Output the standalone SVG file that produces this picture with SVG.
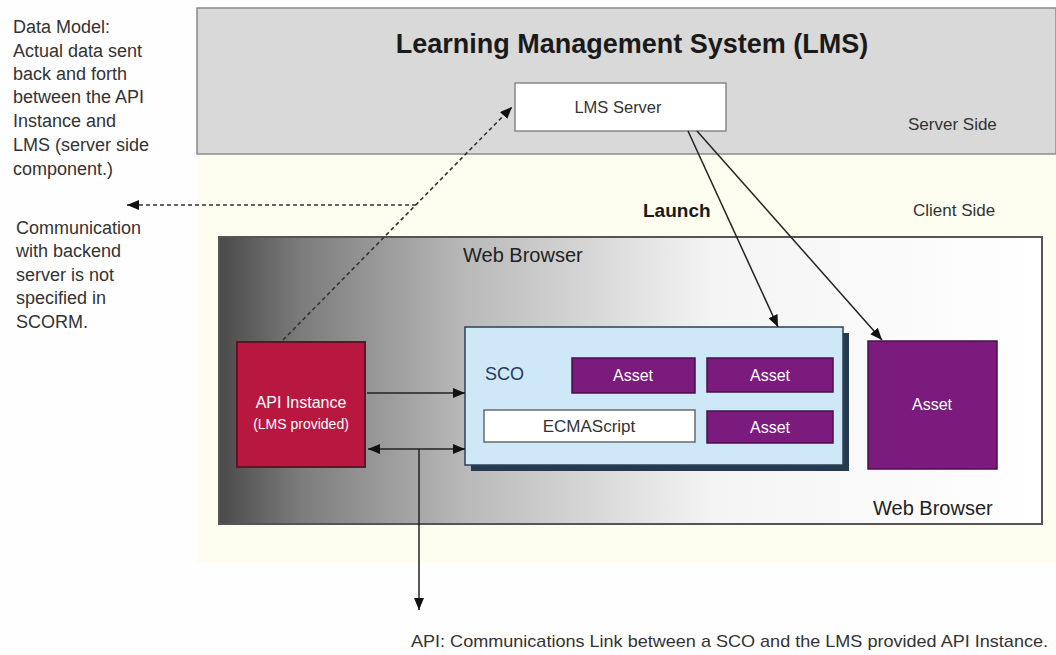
<svg xmlns="http://www.w3.org/2000/svg" width="1056" height="655" viewBox="0 0 1056 655">
  <defs>
    <linearGradient id="browserFill" x1="219" y1="0" x2="1042" y2="0" gradientUnits="userSpaceOnUse">
      <stop offset="0" stop-color="#4a4a4a"/>
      <stop offset="0.1" stop-color="#7c7c7c"/>
      <stop offset="0.3" stop-color="#b9b9b9"/>
      <stop offset="0.6" stop-color="#f4f4f4"/>
      <stop offset="1" stop-color="#ffffff"/>
    </linearGradient>
    <marker id="head" markerUnits="userSpaceOnUse" markerWidth="12" markerHeight="10" refX="12" refY="5" orient="auto-start-reverse">
      <path d="M0,0 L12,5 L0,10 z" fill="#111"/>
    </marker>
    <style>
      text { font-family: "Liberation Sans", Arial, sans-serif; }
      .note { font-size: 18px; fill: #333; }
      .side { font-size: 17px; fill: #333; }
      .label { font-size: 20px; fill: #222; }
      .white { fill: #fff; text-anchor: middle; }
      .asset { fill: #7a1b7d; stroke: #4a0f4e; stroke-width: 1.5; }
      .link { fill: none; stroke: #222; stroke-width: 1.5; }
      .dash { fill: none; stroke: #333; stroke-width: 1.6; stroke-dasharray: 4 3; }
    </style>
  </defs>

  <rect width="1056" height="655" fill="#fefefe"/>

  <!-- server and client side bands -->
  <g id="server-side">
    <rect x="197" y="8" width="859" height="146" fill="#d9d9d9" stroke="#8a8a8a" stroke-width="1.5"/>
    <text x="632" y="53" text-anchor="middle" font-size="27" font-weight="bold" fill="#1a1a1a">Learning Management System (LMS)</text>
    <text class="side" x="908" y="130">Server Side</text>
  </g>
  <g id="client-side">
    <rect x="197" y="155" width="859" height="408" fill="#fdfdf0"/>
    <text x="643" y="217" font-size="19" font-weight="bold" fill="#1a1a1a">Launch</text>
    <text class="side" x="913" y="216">Client Side</text>
  </g>

  <!-- browser window -->
  <g id="web-browser">
    <rect x="219" y="237" width="823" height="287" fill="url(#browserFill)" stroke="#555" stroke-width="2"/>
    <text class="label" x="463" y="262">Web Browser</text>
    <text class="label" x="873" y="515">Web Browser</text>
  </g>

  <g id="lms-server">
    <rect x="515" y="83" width="211" height="48" fill="#fff" stroke="#888" stroke-width="1.5"/>
    <text x="618" y="113" text-anchor="middle" font-size="16.5" fill="#333">LMS Server</text>
  </g>

  <g id="api-instance">
    <rect x="237" y="342" width="128" height="125" fill="#b8183f" stroke="#5e1626" stroke-width="2"/>
    <text class="white" x="301" y="408" font-size="16">API Instance</text>
    <text class="white" x="301" y="429" font-size="14">(LMS provided)</text>
  </g>

  <g id="sco">
    <rect x="471" y="333" width="378" height="138" fill="#263a4e"/>
    <rect x="465" y="327" width="378" height="138" fill="#cfe8f8" stroke="#2b4257" stroke-width="1.5"/>
    <text x="485" y="380" font-size="18" fill="#243a5a">SCO</text>
  </g>

  <g id="asset-1">
    <rect class="asset" x="572" y="358" width="123" height="35"/>
    <text class="white" x="633" y="381" font-size="16">Asset</text>
  </g>
  <g id="asset-2">
    <rect class="asset" x="707" y="358" width="126" height="34"/>
    <text class="white" x="770" y="381" font-size="16">Asset</text>
  </g>
  <g id="ecmascript">
    <rect x="484" y="410" width="211" height="32" fill="#fff" stroke="#6a6a6a" stroke-width="1.5"/>
    <text x="589" y="432" text-anchor="middle" font-size="17" fill="#333">ECMAScript</text>
  </g>
  <g id="asset-3">
    <rect class="asset" x="707" y="411" width="126" height="32"/>
    <text class="white" x="770" y="433" font-size="16">Asset</text>
  </g>
  <g id="asset-4">
    <rect class="asset" x="868" y="341" width="129" height="128"/>
    <text class="white" x="932" y="410" font-size="16">Asset</text>
  </g>

  <!-- side notes -->
  <g id="note-data-model">
    <text class="note" x="13" y="33">Data Model:</text>
    <text class="note" x="13" y="56.5">Actual data sent</text>
    <text class="note" x="13" y="80">back and forth</text>
    <text class="note" x="13" y="103">between the API</text>
    <text class="note" x="13" y="126.5">Instance and</text>
    <text class="note" x="13" y="151">LMS (server side</text>
    <text class="note" x="13" y="175">component.)</text>
  </g>
  <g id="note-backend">
    <text class="note" x="16" y="234">Communication</text>
    <text class="note" x="16" y="257">with backend</text>
    <text class="note" x="16" y="281">server is not</text>
    <text class="note" x="16" y="304">specified in</text>
    <text class="note" x="16" y="328">SCORM.</text>
  </g>
  <g id="note-api">
    <text x="411" y="647" font-size="17" fill="#333" textLength="637" lengthAdjust="spacingAndGlyphs">API: Communications Link between a SCO and the LMS provided API Instance.</text>
  </g>

  <!-- connectors -->
  <g id="connectors">
    <line class="dash" x1="283" y1="340" x2="512" y2="107" marker-end="url(#head)"/>
    <line class="dash" x1="416" y1="205" x2="127" y2="205" marker-end="url(#head)"/>
    <line class="link" x1="688" y1="131" x2="778" y2="327" marker-end="url(#head)"/>
    <line class="link" x1="697" y1="131" x2="882" y2="340" marker-end="url(#head)"/>
    <line class="link" x1="367" y1="393" x2="465" y2="393" marker-end="url(#head)"/>
    <line class="link" x1="368" y1="449" x2="465" y2="449" marker-start="url(#head)" marker-end="url(#head)"/>
    <line class="link" x1="419" y1="449" x2="419" y2="610" marker-end="url(#head)"/>
  </g>
</svg>
